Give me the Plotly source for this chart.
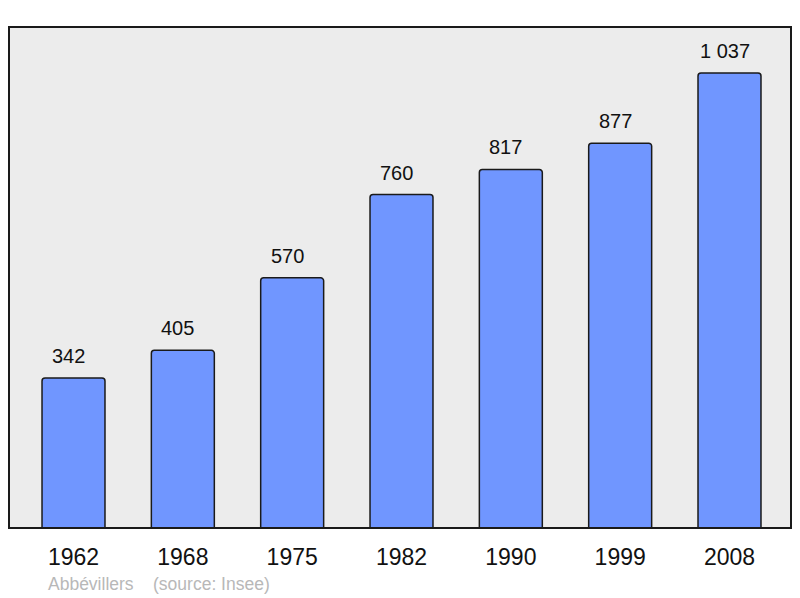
import plotly.graph_objects as go

years = ["1962", "1968", "1975", "1982", "1990", "1999", "2008"]
population = [342, 405, 570, 760, 817, 877, 1037]
labels = ["342", "405", "570", "760", "817", "877", "1 037"]

FONT = "Liberation Sans, Arial, sans-serif"

fig = go.Figure()
fig.add_trace(go.Bar(
    x=years, y=population,
    marker=dict(color="#7096ff", line=dict(color="#1a1a1a", width=1.5), cornerradius=3),
    width=0.576,
    hoverinfo="skip",
))

for i, (v, t) in enumerate(zip(population, labels)):
    fig.add_annotation(x=i, y=v, text=t, showarrow=False, yanchor="bottom", yshift=9, xshift=-5,
                       font=dict(size=20, color="#111", family=FONT))

fig.add_annotation(xref="paper", yref="paper", x=(46 - 9) / 782, y=-(584 - 528) / 501,
                   xanchor="left", yanchor="middle", showarrow=False,
                   text="Abbévillers\u00a0\u00a0\u00a0\u00a0(source: Insee)",
                   font=dict(size=17.5, color="#b8b8b8", family=FONT))

fig.add_shape(type="rect", xref="paper", yref="paper", x0=0, x1=1, y0=0, y1=1,
              line=dict(color="#1a1a1a", width=2), layer="above")

fig.update_layout(
    width=800, height=598,
    margin=dict(l=9, r=9, t=27, b=70),
    paper_bgcolor="white", plot_bgcolor="#ececec",
    showlegend=False,
    font=dict(family=FONT),
    xaxis=dict(type="category", range=[-0.59, 6.5625], showgrid=False, zeroline=False,
               ticks="outside", ticklen=8, tickcolor="rgba(0,0,0,0)",
               tickfont=dict(size=23, color="#111")),
    yaxis=dict(range=[0, 1141.7], showgrid=False, zeroline=False, showticklabels=False, ticks=""),
)

fig.write_html("out.html", config={"displayModeBar": False},
               post_script="document.body.style.margin='0';document.body.style.overflow='hidden';")
